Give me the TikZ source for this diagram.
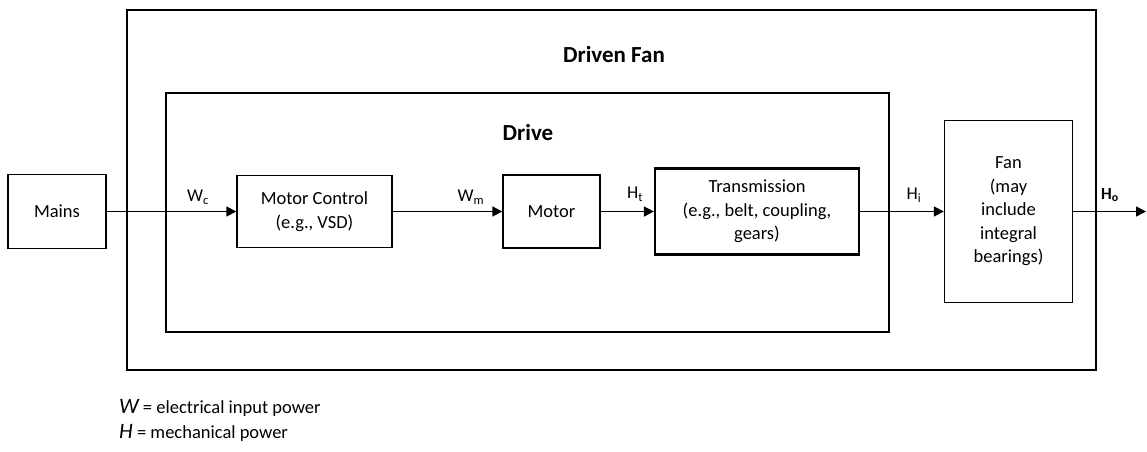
\documentclass[tikz,border=0pt]{standalone}
\usepackage{fontspec}
\setmainfont{Carlito}
\usetikzlibrary{arrows.meta}
\begin{document}
\begin{tikzpicture}[x=1pt,y=-1pt,
  blk/.style={draw, line width=1.4pt, align=center, inner sep=0pt, font=\fontsize{18.5}{23.5}\selectfont},
  frame/.style={draw, line width=2pt},
  conn/.style={line width=1.6pt, -{Triangle[length=10pt,width=10pt]}},
  lbl/.style={font=\fontsize{18}{20}\selectfont, inner sep=0pt},
  title/.style={font=\bfseries\fontsize{23}{26}\selectfont, inner sep=0pt},
  legend/.style={anchor=west, inner sep=0pt, font=\fontsize{18.5}{20}\selectfont}]
\useasboundingbox (0,0) rectangle (1147,451);
% frames
\draw[frame] (127,10) rectangle (1096,370);
\draw[frame, line width=1.6pt] (166,93) rectangle (889,332);
\node[title] (tfan) at (614,55) {Driven Fan};
\node[title] (tdrive) at (528,133) {Drive};
% blocks
\node[blk, minimum width=98pt, minimum height=74pt] (mains) at (57,211.5) {Mains};
\node[blk, minimum width=155pt, minimum height=72pt] (mc) at (314.5,211.5) {Motor Control\\(e.g., VSD)};
\node[blk, minimum width=97pt, minimum height=73pt] (motor) at (551.5,211.5) {Motor};
\node[blk, line width=2.2pt, minimum width=204pt, minimum height=86pt] (trans) at (757,211.5) {Transmission\\(e.g., belt, coupling,\\gears)};
\node[blk, minimum width=128pt, minimum height=182pt] (fan) at (1008.5,211.5) {Fan\\(may\\include\\integral\\bearings)};
\coordinate (out) at (1146,211.5);
% connectors
\draw[conn] (mains.east) -- (mains.east -| mc.west);
\draw[conn] (mc.east) -- (mc.east -| motor.west);
\draw[conn] (motor.east) -- (motor.east -| trans.west);
\draw[conn] (trans.east) -- (trans.east -| fan.west);
\draw[conn] (fan.east) -- (out);
% labels
\node[lbl] (wc) at (198,197) {W\textsubscript{c}};
\node[lbl] (wm) at (471,197) {W\textsubscript{m}};
\node[lbl] (ht) at (635,194) {H\textsubscript{t}};
\node[lbl] (hi) at (914,195) {H\textsubscript{i}};
\node[lbl, font=\bfseries\fontsize{17}{18}\selectfont] (ho) at (1110,195) {H\textsubscript{o}};
% legend
\node[legend] (lw) at (119,408) {{\fontsize{22}{22}\selectfont\itshape W} = electrical input power};
\node[legend] (lh) at (119,433) {{\fontsize{22}{22}\selectfont\itshape H} = mechanical power};
\end{tikzpicture}
\end{document}
